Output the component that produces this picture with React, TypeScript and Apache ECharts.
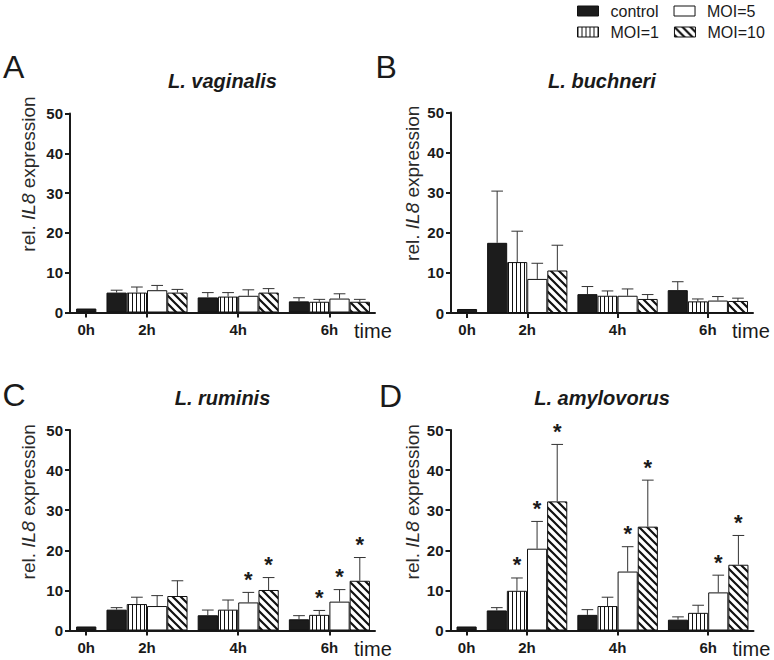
import React, { useEffect, useRef } from 'react';
import * as echarts from 'echarts';

// ---------- data ----------
const timeLabels = ['0h', '2h', '4h', '6h'];
const conditions = ['control', 'MOI=1', 'MOI=5', 'MOI=10'];
const speciesTitles = ['L. vaginalis', 'L. buchneri', 'L. ruminis', 'L. amylovorus'];
const panelLetters = ['A', 'B', 'C', 'D'];

// rows: control, MOI=1, MOI=5, MOI=10 ; columns: 0h, 2h, 4h, 6h
const vaginalisMean = [
  [1.0, 5.0, 3.8, 2.8],
  [null, 5.0, 4.0, 2.7],
  [null, 5.6, 4.2, 3.5],
  [null, 5.0, 5.0, 2.7],
];
const vaginalisSD = [
  [0, 0.6, 1.2, 0.9],
  [0, 1.4, 1.0, 0.6],
  [0, 1.2, 1.5, 1.2],
  [0, 0.8, 1.0, 0.6],
];
const vaginalisSig = [
  [0, 0, 0, 0],
  [0, 0, 0, 0],
  [0, 0, 0, 0],
  [0, 0, 0, 0],
];

const buchneriMean = [
  [1.0, 17.5, 4.7, 5.7],
  [null, 12.7, 4.3, 2.9],
  [null, 8.5, 4.3, 3.1],
  [null, 10.6, 3.5, 3.0],
];
const buchneriSD = [
  [0, 12.9, 1.9, 2.1],
  [0, 7.7, 1.2, 0.6],
  [0, 3.9, 1.7, 1.0],
  [0, 6.3, 1.1, 0.7],
];
const buchneriSig = [
  [0, 0, 0, 0],
  [0, 0, 0, 0],
  [0, 0, 0, 0],
  [0, 0, 0, 0],
];

const ruminisMean = [
  [1.0, 5.2, 3.8, 2.8],
  [null, 6.6, 5.2, 3.9],
  [null, 6.1, 7.0, 7.2],
  [null, 8.6, 10.1, 12.4],
];
const ruminisSD = [
  [0, 0.5, 1.3, 0.9],
  [0, 1.7, 2.4, 1.1],
  [0, 2.6, 2.5, 3.0],
  [0, 3.8, 3.1, 5.8],
];
const ruminisSig = [
  [0, 0, 0, 0],
  [0, 0, 0, 1],
  [0, 0, 1, 1],
  [0, 0, 1, 1],
];

const amylovorusMean = [
  [1.0, 5.0, 3.9, 2.7],
  [null, 9.9, 6.1, 4.4],
  [null, 20.4, 14.7, 9.5],
  [null, 32.2, 25.9, 16.4],
];
const amylovorusSD = [
  [0, 0.7, 1.3, 0.7],
  [0, 3.2, 2.2, 1.9],
  [0, 6.8, 6.2, 4.3],
  [0, 14.2, 11.6, 7.3],
];
const amylovorusSig = [
  [0, 0, 0, 0],
  [0, 1, 0, 0],
  [0, 1, 1, 1],
  [0, 1, 1, 1],
];

const panelMeans = [vaginalisMean, buchneriMean, ruminisMean, amylovorusMean];
const panelSDs = [vaginalisSD, buchneriSD, ruminisSD, amylovorusSD];
const panelSigs = [vaginalisSig, buchneriSig, ruminisSig, amylovorusSig];

// ---------- layout / style ----------
const FONT = "'Liberation Sans', Arial, Helvetica, sans-serif";
const INK = '#1a1a1a';

const LEAD = 0.3;
const GAP = 0.5;
const TAIL = 0.25;
const X_MAX = LEAD + 1 + 3 * (GAP + 4) + TAIL;

function barX(t: number, s: number): number {
  if (t === 0) return LEAD + 0.5;
  return LEAD + 1 + GAP + (t - 1) * (4 + GAP) + s + 0.5;
}
function tickX(t: number): number {
  if (t === 0) return LEAD + 0.5;
  return LEAD + 1 + GAP + (t - 1) * (4 + GAP) + 2;
}
const tickPositions = timeLabels.map((_, t) => tickX(t));

const grids = [
  { left: 70, top: 113.5, width: 305, height: 199 },
  { left: 451, top: 112.5, width: 302, height: 200.5 },
  { left: 70, top: 430, width: 305, height: 200.5 },
  { left: 450.5, top: 430, width: 303, height: 200.5 },
];
const nameGaps = [32, 29, 32, 29];
const nameShift = [78, 59, 57, 57];
const titleY = [81, 81, 398, 398];
const letterPos = [
  [3, 66.7],
  [375.5, 66.7],
  [2.5, 395],
  [379, 395.5],
];

function makePattern(kind: string): any {
  const c = document.createElement('canvas');
  const ctx = c.getContext('2d') as CanvasRenderingContext2D;
  if (kind === 'vlines') {
    c.width = 4;
    c.height = 4;
    ctx.fillStyle = '#ffffff';
    ctx.fillRect(0, 0, 4, 4);
    ctx.fillStyle = '#111111';
    ctx.fillRect(0, 0, 1, 4);
  } else {
    c.width = 8;
    c.height = 8;
    ctx.fillStyle = '#ffffff';
    ctx.fillRect(0, 0, 8, 8);
    ctx.strokeStyle = '#111111';
    ctx.lineWidth = 2.2;
    ctx.beginPath();
    for (let k = -1; k <= 1; k++) {
      ctx.moveTo(k * 8 - 2, -2);
      ctx.lineTo(k * 8 + 10, 10);
    }
    ctx.stroke();
  }
  return { image: c, repeat: 'repeat', imageWidth: c.width, imageHeight: c.height };
}

function buildOption(): any {
  const fills: any[] = ['#1c1c1c', makePattern('vlines'), '#ffffff', makePattern('diag')];
  const axisLineStyle = { color: INK, width: 2 };

  const xAxes: any[] = [];
  const yAxes: any[] = [];
  const series: any[] = [];

  grids.forEach((g, p) => {
    const barPx = g.width / X_MAX;
    xAxes.push({
      type: 'value',
      gridIndex: p,
      min: 0,
      max: X_MAX,
      axisLine: { show: true, onZero: false, lineStyle: axisLineStyle },
      axisTick: { show: true, customValues: tickPositions, length: 5, lineStyle: axisLineStyle },
      axisLabel: {
        customValues: tickPositions,
        margin: 9,
        fontSize: 15,
        fontWeight: 'bold',
        fontFamily: FONT,
        color: INK,
        formatter: (v: number) => {
          const i = tickPositions.findIndex((tp) => Math.abs(tp - v) < 1e-6);
          return i >= 0 ? timeLabels[i] : '';
        },
      },
      splitLine: { show: false },
      name: 'time',
      nameLocation: 'end',
      nameGap: -21,
      nameTextStyle: {
        fontSize: 20,
        fontFamily: FONT,
        color: INK,
        align: 'left',
        verticalAlign: 'top',
        padding: [8, 0, 0, 0],
      },
    });
    yAxes.push({
      type: 'value',
      gridIndex: p,
      min: 0,
      max: 50,
      interval: 10,
      axisLine: { show: true, lineStyle: axisLineStyle },
      axisTick: { show: true, length: 5, lineStyle: axisLineStyle },
      axisLabel: { margin: 7, fontSize: 15, fontWeight: 'bold', fontFamily: FONT, color: INK },
      splitLine: { show: false },
      name: '{n|rel. }{i|IL8}{n| expression}',
      nameLocation: 'middle',
      nameRotate: 90,
      nameGap: nameGaps[p],
      nameTextStyle: {
        fontSize: 19,
        fontFamily: FONT,
        color: '#2a2a2a',
        padding: [0, 0, 0, nameShift[p]],
        rich: {
          n: { fontSize: 19, fontFamily: FONT, color: '#2a2a2a' },
          i: { fontSize: 19, fontFamily: FONT, color: '#2a2a2a', fontStyle: 'italic' },
        },
      },
    });

    const means = panelMeans[p];
    const sds = panelSDs[p];
    const sigs = panelSigs[p];
    const errRows: any[] = [];

    conditions.forEach((name, s) => {
      const data: any[] = [];
      timeLabels.forEach((_, t) => {
        const m = means[s][t];
        if (m === null || m === undefined) return;
        data.push([barX(t, s), m]);
        errRows.push([barX(t, s), m, sds[s][t], sigs[s][t]]);
      });
      series.push({
        type: 'bar',
        name,
        xAxisIndex: p,
        yAxisIndex: p,
        data,
        barWidth: barPx,
        barGap: '-100%',
        itemStyle: { color: fills[s], borderColor: '#111111', borderWidth: 1 },
        z: 2,
      });
    });

    series.push({
      type: 'custom',
      name: 'err' + p,
      xAxisIndex: p,
      yAxisIndex: p,
      clip: false,
      z: 3,
      data: errRows,
      renderItem: (params: any, api: any) => {
        const x = api.value(0);
        const m = api.value(1);
        const sd = api.value(2);
        const sig = api.value(3);
        const base = api.coord([x, m]);
        const top = api.coord([x, m + sd]);
        const half = api.size([1, 0])[0] * 0.29;
        const children: any[] = [];
        if (sd > 0) {
          children.push({
            type: 'line',
            shape: { x1: base[0], y1: base[1], x2: top[0], y2: top[1] },
            style: { stroke: '#333333', lineWidth: 1 },
          });
          children.push({
            type: 'line',
            shape: { x1: top[0] - half, y1: top[1], x2: top[0] + half, y2: top[1] },
            style: { stroke: '#333333', lineWidth: 1 },
          });
        }
        if (sig) {
          children.push({
            type: 'text',
            x: top[0],
            y: top[1] - 13,
            style: {
              text: '*',
              fontSize: 22,
              fontWeight: 'bold',
              fontFamily: FONT,
              fill: INK,
              align: 'center',
              verticalAlign: 'middle',
            },
          });
        }
        return { type: 'group', children };
      },
    });
  });

  const graphic: any[] = [];
  grids.forEach((g, p) => {
    graphic.push({
      type: 'text',
      x: g.left + g.width / 2,
      y: titleY[p],
      style: {
        text: speciesTitles[p],
        fontSize: 20,
        fontWeight: 'bold',
        fontStyle: 'italic',
        fontFamily: FONT,
        fill: INK,
        align: 'center',
        verticalAlign: 'middle',
      },
    });
    graphic.push({
      type: 'text',
      x: letterPos[p][0],
      y: letterPos[p][1],
      style: {
        text: panelLetters[p],
        fontSize: 32,
        fontFamily: FONT,
        fill: INK,
        align: 'left',
        verticalAlign: 'middle',
      },
    });
  });

  const legendCommon = {
    left: 577,
    padding: 0,
    orient: 'horizontal',
    icon: 'rect',
    itemWidth: 21,
    itemHeight: 10,
    itemGap: 15,
    selectedMode: false,
    itemStyle: { borderColor: '#111111', borderWidth: 1 },
    textStyle: { fontSize: 16, fontFamily: FONT, color: INK, padding: [0, 0, 0, 7] },
  };

  return {
    animation: false,
    backgroundColor: '#ffffff',
    grid: grids.map((g) => ({ ...g, containLabel: false })),
    xAxis: xAxes,
    yAxis: yAxes,
    legend: [
      { ...legendCommon, top: 3, data: ['control', 'MOI=5'] },
      { ...legendCommon, top: 24, data: ['MOI=1', 'MOI=10'] },
    ],
    graphic,
    series,
  };
}

export default function App() {
  const ref = useRef<HTMLDivElement>(null);
  useEffect(() => {
    if (!ref.current) return;
    const chart = echarts.init(ref.current, null, { renderer: 'svg' });
    chart.setOption(buildOption());
    return () => chart.dispose();
  }, []);
  return (
    <div
      ref={ref}
      style={{ position: 'absolute', left: 0, top: 0, width: 774, height: 660, background: '#fff' }}
    />
  );
}
